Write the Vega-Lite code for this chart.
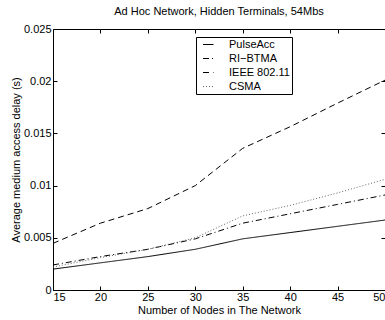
{
  "$schema": "https://vega.github.io/schema/vega-lite/v6.json",
  "autosize": {"type": "none"},
  "width": 332,
  "height": 261,
  "padding": {"left": 53, "top": 29, "right": 0, "bottom": 30},
  "background": "white",
  "config": {
    "font": "Liberation Sans",
    "view": {"stroke": "black", "strokeWidth": 1},
    "axis": {"grid": false, "domain": false, "tickColor": "black", "tickSize": -4, "labelColor": "black", "titleColor": "black", "labelFontSize": 11, "titleFontSize": 11, "titleFontWeight": "normal", "labelFont": "Liberation Sans", "titleFont": "Liberation Sans"}
  },
  "title": {"text": "Ad Hoc Network, Hidden Terminals, 54Mbs", "fontSize": 11, "fontWeight": "normal", "font": "Liberation Sans", "color": "black", "offset": 6},
  "data": {"values": [
    {"n": 15, "series": "PulseAcc", "delay": 0.0020},
    {"n": 20, "series": "PulseAcc", "delay": 0.0026},
    {"n": 25, "series": "PulseAcc", "delay": 0.0032},
    {"n": 30, "series": "PulseAcc", "delay": 0.0039},
    {"n": 35, "series": "PulseAcc", "delay": 0.0049},
    {"n": 40, "series": "PulseAcc", "delay": 0.0055},
    {"n": 45, "series": "PulseAcc", "delay": 0.0061},
    {"n": 50, "series": "PulseAcc", "delay": 0.0067},
    {"n": 15, "series": "RI\u2212BTMA", "delay": 0.0024},
    {"n": 20, "series": "RI\u2212BTMA", "delay": 0.0032},
    {"n": 25, "series": "RI\u2212BTMA", "delay": 0.0039},
    {"n": 30, "series": "RI\u2212BTMA", "delay": 0.0049},
    {"n": 35, "series": "RI\u2212BTMA", "delay": 0.0064},
    {"n": 40, "series": "RI\u2212BTMA", "delay": 0.0073},
    {"n": 45, "series": "RI\u2212BTMA", "delay": 0.0082},
    {"n": 50, "series": "RI\u2212BTMA", "delay": 0.0091},
    {"n": 15, "series": "IEEE 802.11", "delay": 0.00447},
    {"n": 20, "series": "IEEE 802.11", "delay": 0.0064},
    {"n": 25, "series": "IEEE 802.11", "delay": 0.0078},
    {"n": 30, "series": "IEEE 802.11", "delay": 0.0100},
    {"n": 35, "series": "IEEE 802.11", "delay": 0.01357},
    {"n": 40, "series": "IEEE 802.11", "delay": 0.01564},
    {"n": 45, "series": "IEEE 802.11", "delay": 0.0179},
    {"n": 50, "series": "IEEE 802.11", "delay": 0.0201},
    {"n": 15, "series": "CSMA", "delay": 0.0022},
    {"n": 20, "series": "CSMA", "delay": 0.0031},
    {"n": 25, "series": "CSMA", "delay": 0.0039},
    {"n": 30, "series": "CSMA", "delay": 0.0050},
    {"n": 35, "series": "CSMA", "delay": 0.0071},
    {"n": 40, "series": "CSMA", "delay": 0.0081},
    {"n": 45, "series": "CSMA", "delay": 0.0093},
    {"n": 50, "series": "CSMA", "delay": 0.0106}
  ]},
  "layer": [
    {
      "mark": {"type": "line", "strokeWidth": 1},
      "encoding": {
        "x": {"field": "n", "type": "quantitative", "scale": {"domain": [15, 50], "nice": false}, "axis": {"orient": "bottom", "values": [15, 20, 25, 30, 35, 40, 45, 50], "title": "Number of Nodes in The Network", "labelPadding": 5, "titlePadding": 2}},
        "y": {"field": "delay", "type": "quantitative", "scale": {"domain": [0, 0.025], "nice": false}, "axis": {"orient": "left", "values": [0, 0.005, 0.01, 0.015, 0.02, 0.025], "format": "~g", "title": "Average medium access delay (s)", "labelPadding": 6, "titlePadding": 2}},
        "strokeDash": {"field": "series", "type": "nominal", "scale": {"domain": ["PulseAcc", "RI\u2212BTMA", "IEEE 802.11", "CSMA"], "range": [[1, 0], [6, 3, 1, 3], [6, 4], [1, 2]]}, "legend": {"title": null, "orient": "none", "legendX": 143, "legendY": 8, "fillColor": "white", "strokeColor": "black", "padding": 2, "symbolType": "M-0.1,0H2", "symbolSize": 100, "symbolStrokeWidth": 1, "labelFontSize": 11, "labelColor": "black", "rowPadding": 2, "labelOffset": 20, "labelFont": "Liberation Sans", "labelExpr": "datum.label + '\u2002\u2002'"}},
        "color": {"field": "series", "type": "nominal", "scale": {"domain": ["PulseAcc", "RI\u2212BTMA", "IEEE 802.11", "CSMA"], "range": ["black", "black", "black", "#666666"]}, "legend": {"title": null, "orient": "none", "legendX": 143, "legendY": 8, "fillColor": "white", "strokeColor": "black", "padding": 2, "symbolType": "M-0.1,0H2", "symbolSize": 100, "symbolStrokeWidth": 1, "labelFontSize": 11, "labelColor": "black", "rowPadding": 2, "labelOffset": 20, "labelFont": "Liberation Sans", "labelExpr": "datum.label + '\u2002\u2002'"}}
      }
    },
    {
      "mark": {"type": "line", "opacity": 0},
      "encoding": {
        "x": {"field": "n", "type": "quantitative", "axis": {"orient": "top", "values": [15, 20, 25, 30, 35, 40, 45, 50], "labels": false, "title": null}},
        "y": {"field": "delay", "type": "quantitative", "axis": {"orient": "right", "values": [0, 0.005, 0.01, 0.015, 0.02, 0.025], "labels": false, "title": null}}
      }
    }
  ],
  "resolve": {"axis": {"x": "independent", "y": "independent"}}
}
